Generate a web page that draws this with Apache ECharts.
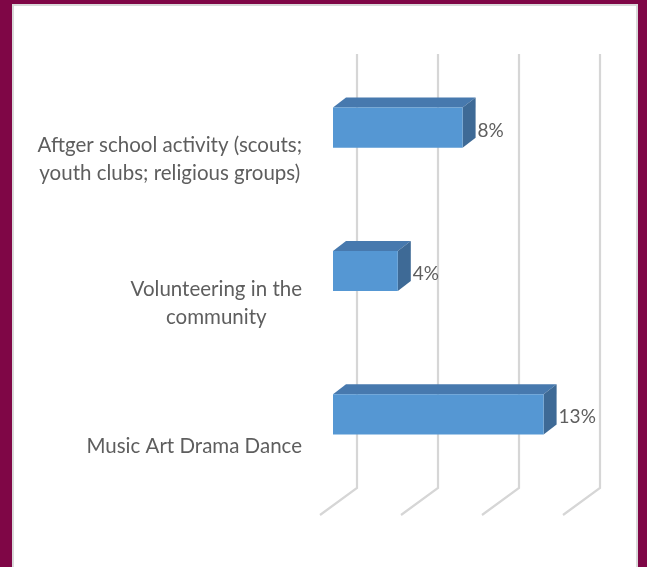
<!DOCTYPE html>
<html>
<head>
<meta charset="utf-8">
<script src="https://cdn.jsdelivr.net/npm/echarts@6/dist/echarts.min.js"></script>
<style>
  html, body { margin: 0; padding: 0; width: 647px; height: 567px; overflow: hidden; background: #7f0646; }
  #panel { position: absolute; left: 12px; top: 4px; width: 626px; height: 570px; box-sizing: border-box;
           background: #ffffff; border: 2px solid #d9d9d9; }
  #chart { position: absolute; left: 0; top: 0; width: 647px; height: 567px; }
</style>
</head>
<body>
<div id="panel"></div>
<div id="chart"></div>
<script>
// Activity categories, top to bottom
const categories = [
  ['Aftger school activity (scouts;', 'youth clubs; religious groups)'],
  ['Volunteering in the', 'community'],
  ['Music Art Drama Dance']
];
// Share of respondents (%)
const values = [8, 4, 13];
// Value-axis gridline positions (%)
const gridTicks = [0, 5, 10, 15];

const FONT = 'Lato, "Open Sans", sans-serif';
const TEXT = '#5e5e5e';
// depth of the box (front face to back face) and of the whole floor
const BAR_DX = 13, BAR_DY = -10;
const BACK_DX = 24;

const chart = echarts.init(document.getElementById('chart'), null, { renderer: 'canvas' });

function renderGridLine(params, api) {
  const cs = params.coordSys;
  const x = api.coord([api.value(0), 0])[0];
  const top = cs.y - 2;
  const bottom = cs.y + cs.height + 2;
  return {
    type: 'polyline',
    shape: { points: [[x + BACK_DX, top], [x + BACK_DX, bottom], [x + BACK_DX - 37, bottom + 27]] },
    style: { stroke: '#d6d6d6', lineWidth: 2.2, fill: null }
  };
}

function renderBar(params, api) {
  const v = api.value(0);
  const idx = api.value(1);
  const p0 = api.coord([0, idx]);
  const p1 = api.coord([v, idx]);
  const h = api.size([0, 1])[1] * 0.28;
  const x0 = p0[0], x1 = p1[0];
  const yt = p0[1] - h / 2, yb = p0[1] + h / 2;
  return {
    type: 'group',
    children: [
      { type: 'polygon', shape: { points: [[x0, yt], [x1, yt], [x1 + BAR_DX, yt + BAR_DY], [x0 + BAR_DX, yt + BAR_DY]] },
        style: { fill: '#4779ae' } },
      { type: 'polygon', shape: { points: [[x1, yt], [x1 + BAR_DX, yt + BAR_DY], [x1 + BAR_DX, yb + BAR_DY], [x1, yb]] },
        style: { fill: '#3e6a96' } },
      { type: 'rect', shape: { x: x0, y: yt, width: x1 - x0, height: h },
        style: { fill: '#5597d3' } },
      { type: 'text', style: { text: v + '%', x: x1 + BAR_DX + 2, y: p0[1] + 3,
        verticalAlign: 'middle', align: 'left', fill: TEXT, font: '19px ' + FONT } }
    ]
  };
}

chart.setOption({
  animation: false,
  grid: { left: 333, top: 56, right: 71, bottom: 81, containLabel: false },
  xAxis: {
    type: 'value', min: 0, max: 15, interval: 5,
    axisLine: { show: false }, axisTick: { show: false }, axisLabel: { show: false },
    splitLine: { show: false }
  },
  yAxis: {
    type: 'category', inverse: true,
    data: categories.map(c => c.join('\n')),
    axisLine: { show: false }, axisTick: { show: false },
    axisLabel: {
      margin: 31,
      padding: [64, 0, 0, 0],
      formatter: function (val) {
        return val.split('\n').map(s => '{c|' + s + '}').join('\n');
      },
      rich: { c: { align: 'center', fontFamily: FONT, fontSize: 20.5, lineHeight: 28, color: TEXT } }
    }
  },
  series: [
    { type: 'custom', z: 1, renderItem: renderGridLine, data: gridTicks.map(t => [t, 0]), silent: true },
    { type: 'custom', z: 2, renderItem: renderBar, data: values.map((v, i) => [v, i]), silent: true }
  ]
});
</script>
</body>
</html>
